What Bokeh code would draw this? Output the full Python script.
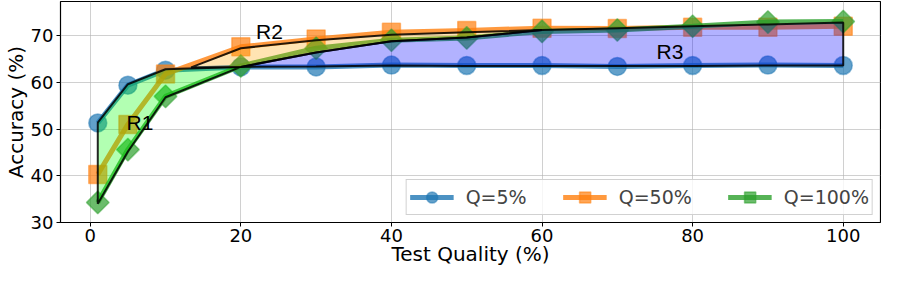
from bokeh.plotting import figure
from bokeh.models import Range1d, Legend, LegendItem, FixedTicker, Label
from bokeh.embed import file_html
from bokeh.resources import INLINE
import numpy as np

# ---- data ----
test_quality = [1, 5, 10, 20, 30, 40, 50, 60, 70, 80, 90, 100]
acc_q5 = [51.3, 59.4, 62.6, 63.3, 63.3, 63.7, 63.6, 63.6, 63.4, 63.6, 63.7, 63.6]
acc_q50 = [40.3, 51.0, 61.8, 67.6, 69.3, 70.7, 71.1, 71.6, 71.5, 71.8, 71.8, 72.0]
acc_q100 = [34.3, 45.6, 57.0, 63.5, 67.3, 69.0, 69.5, 70.9, 71.2, 72.0, 72.9, 73.0]
series_labels = ["Q=5%", "Q=50%", "Q=100%"]

# shaded regions (polygon outlines)
r1_x = [1, 5, 10, 20, 20, 10, 5, 1]
r1_y = [51.4, 59.6, 62.8, 63.3, 63.3, 56.8, 45.2, 34.0]
r2_x = [13.4, 20, 30, 40, 50, 60, 50, 40, 30, 20]
r2_y = [63.2, 67.3, 69.0, 70.2, 70.7, 71.2, 69.6, 68.8, 66.4, 63.3]
r3_x = [20, 30, 40, 50, 60, 70, 80, 90, 100, 100, 90, 80, 70, 60, 50, 40, 30, 20]
r3_y = [63.3, 66.4, 68.8, 69.6, 71.2, 71.6, 72.0, 72.4, 72.8,
        63.6, 63.6, 63.5, 63.5, 63.5, 63.5, 63.6, 63.4, 63.3]
region_labels = ["R1", "R2", "R3"]
region_label_x = [6.6, 23.8, 77.0]
region_label_y = [51.3, 70.8, 66.6]

x_ticks = [0, 20, 40, 60, 80, 100]
y_ticks = [30, 40, 50, 60, 70]
x_title = "Test Quality (%)"
y_title = "Accuracy (%)"

BLUE, ORANGE, GREEN = "#1f77b4", "#ff7f0e", "#2ca02c"

p = figure(width=881, height=268, output_backend="svg", toolbar_location=None,
           x_range=Range1d(-3.95, 104.95), y_range=Range1d(30, 77.3),
           min_border_left=57, min_border_right=1, min_border_top=1,
           min_border_bottom=0)

p.outline_line_color = "black"
p.outline_line_width = 1.2
p.xgrid.grid_line_color = "#b0b0b0"
p.ygrid.grid_line_color = "#b0b0b0"
p.xgrid.grid_line_alpha = 0.6
p.ygrid.grid_line_alpha = 0.6
p.xaxis.ticker = FixedTicker(ticks=x_ticks)
p.yaxis.ticker = FixedTicker(ticks=y_ticks)
for ax in (p.xaxis[0], p.yaxis[0]):
    ax.major_label_text_font = "DejaVu Sans"
    ax.major_label_text_font_size = "18px"
    ax.major_label_text_color = "black"
    ax.axis_label_text_font = "DejaVu Sans"
    ax.axis_label_text_font_size = "20px"
    ax.axis_label_text_font_style = "normal"
    ax.axis_label_text_color = "black"
    ax.minor_tick_line_color = None
    ax.major_tick_out = 4
    ax.major_tick_in = 0
    ax.axis_line_color = None
    ax.major_tick_line_color = "black"
p.xaxis.axis_label = x_title
p.yaxis.axis_label = y_title
p.xaxis.axis_label_standoff = -3
p.yaxis.axis_label_standoff = 0
p.xaxis.major_label_standoff = 2
p.yaxis.major_label_standoff = 3

items = []
for ys, col, marker, angle, size, lab in [
        (acc_q5, BLUE, "circle", 0, 18, series_labels[0]),
        (acc_q50, ORANGE, "square", 0, 18, series_labels[1]),
        (acc_q100, GREEN, "square", np.pi / 4, 16, series_labels[2])]:
    ln = p.line(test_quality, ys, line_color=col, line_width=5, line_alpha=0.8)
    sc = p.scatter(test_quality, ys, marker=marker, angle=angle, size=size,
                   fill_color=col, fill_alpha=0.7, line_color=col,
                   line_alpha=0.5, line_width=1.5)
    items.append(LegendItem(label=lab, renderers=[ln, sc]))

# regions drawn on top
p.patch(r1_x, r1_y, fill_color="lime", fill_alpha=0.3, line_color="black",
        line_width=2, line_alpha=0.85)
p.patch(r2_x, r2_y, fill_color="orange", fill_alpha=0.3, line_color="black",
        line_width=2, line_alpha=0.85)
p.patch(r3_x, r3_y, fill_color="blue", fill_alpha=0.3, line_color="black",
        line_width=2, line_alpha=0.85)

for t, lx, ly in zip(region_labels, region_label_x, region_label_y):
    p.add_layout(Label(x=lx, y=ly, text=t, text_font="Liberation Sans",
                       text_font_size="21px", text_align="center",
                       text_baseline="middle", text_color="black"))

legend = Legend(items=items, orientation="horizontal", location="bottom_right",
                glyph_width=44, glyph_height=28, label_text_font="DejaVu Sans",
                label_text_font_size="19px", spacing=36, padding=3,
                margin=7, border_line_color="#cccccc", border_line_alpha=0.9,
                background_fill_alpha=0.8, label_standoff=12,
                label_height=28)
p.add_layout(legend)

open("out.html", "w").write(file_html(p, INLINE))
